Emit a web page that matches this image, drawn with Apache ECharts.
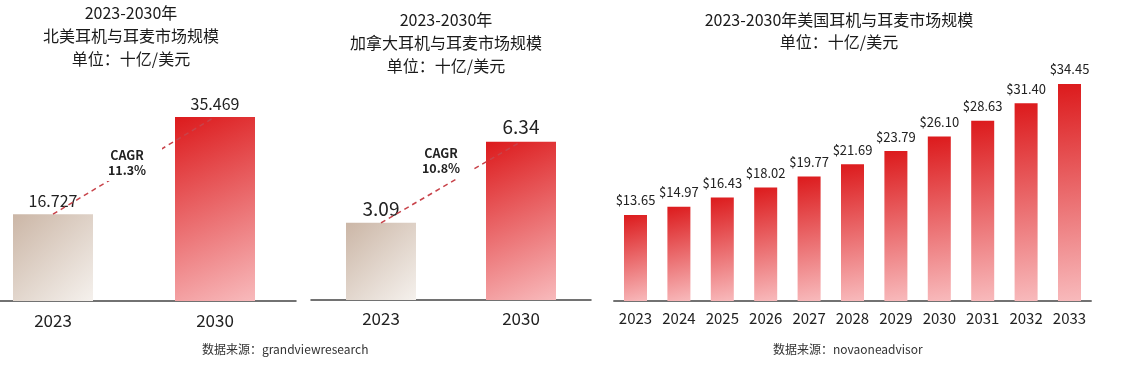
<!DOCTYPE html>
<html>
<head>
<meta charset="utf-8">
<script src="https://cdn.jsdelivr.net/npm/echarts@6/dist/echarts.min.js"></script>
<style>
html,body{margin:0;padding:0;background:#fff;}
#c{width:1143px;height:367px;}
</style>
</head>
<body>
<div id="c"></div>
<script>
// ---- data ----
var naTitle = '2023-2030年\n北美耳机与耳麦市场规模\n单位：十亿/美元';
var naCats = ['2023', '2030'];
var naValues = [16.727, 35.469];
var naCagr = 'CAGR\n11.3%';

var caTitle = '2023-2030年\n加拿大耳机与耳麦市场规模\n单位：十亿/美元';
var caCats = ['2023', '2030'];
var caValues = [3.09, 6.34];
var caCagr = 'CAGR\n10.8%';

var usTitle = '2023-2030年美国耳机与耳麦市场规模\n单位：十亿/美元';
var usCats = ['2023','2024','2025','2026','2027','2028','2029','2030','2031','2032','2033'];
var usValues = [13.65, 14.97, 16.43, 18.02, 19.77, 21.69, 23.79, 26.10, 28.63, 31.40, 34.45];

var naSource = '数据来源：grandviewresearch';
var usSource = '数据来源：novaoneadvisor';

// ---- styles ----
var FONT = '"Noto Sans CJK SC", "Noto Sans", sans-serif';
function grad(c1, c2) {
  return new echarts.graphic.LinearGradient(0, 0, 1, 1, [
    {offset: 0, color: c1}, {offset: 1, color: c2}
  ]);
}
var RED = function(){ return grad('#dc1a1c', '#f8babc'); };
var TAN = function(){ return grad('#cbb6a6', '#f5f1ed'); };

function twoBarData(vals) {
  return vals.map(function (v, i) {
    return {value: v, itemStyle: {color: i === 0 ? TAN() : RED()}};
  });
}

var axisLine = {show: true, lineStyle: {color: '#444', width: 1.5}};

var chart = echarts.init(document.getElementById('c'), null, {renderer: 'canvas'});
chart.setOption({
  animation: false,
  textStyle: {fontFamily: FONT},
  title: [
    {text: naTitle, left: 131, top: 1.5, textAlign: 'center', padding: 0,
     textStyle: {fontSize: 16, fontWeight: 'normal', color: '#1a1a1a', lineHeight: 23, fontFamily: FONT}},
    {text: caTitle, left: 446, top: 8.5, textAlign: 'center', padding: 0,
     textStyle: {fontSize: 16, fontWeight: 'normal', color: '#1a1a1a', lineHeight: 23, fontFamily: FONT}},
    {text: usTitle, left: 839, top: 9, textAlign: 'center', padding: 0,
     textStyle: {fontSize: 16, fontWeight: 'normal', color: '#1a1a1a', lineHeight: 22, fontFamily: FONT}}
  ],
  grid: [
    {left: -28, right: 847, top: 93.4, bottom: 66, outerBoundsMode: 'none', containLabel: false},
    {left: 311, right: 552, top: 100.2, bottom: 67, outerBoundsMode: 'none', containLabel: false},
    {left: 613.8, right: 51.8, top: 49, bottom: 66, outerBoundsMode: 'none', containLabel: false}
  ],
  xAxis: [
    {type: 'category', gridIndex: 0, data: naCats, axisLine: axisLine, axisTick: {show: false},
     axisLabel: {fontSize: 17, color: '#222', margin: 11, fontFamily: FONT}},
    {type: 'category', gridIndex: 1, data: caCats, axisLine: axisLine, axisTick: {show: false},
     axisLabel: {fontSize: 17, color: '#222', margin: 10, fontFamily: FONT}},
    {type: 'category', gridIndex: 2, data: usCats, axisLine: axisLine, axisTick: {show: false},
     axisLabel: {fontSize: 15, color: '#222', margin: 10, fontFamily: FONT}}
  ],
  yAxis: [
    {type: 'value', gridIndex: 0, min: 0, max: 40, show: false},
    {type: 'value', gridIndex: 1, min: 0, max: 8, show: false},
    {type: 'value', gridIndex: 2, min: 0, max: 40, show: false}
  ],
  series: [
    {type: 'bar', xAxisIndex: 0, yAxisIndex: 0, barWidth: 80, data: twoBarData(naValues),
     label: {show: true, position: 'top', distance: 5, fontSize: 16, color: '#222', fontFamily: FONT,
       formatter: function (p) { return p.value.toFixed(3); }}},
    {type: 'line', xAxisIndex: 0, yAxisIndex: 0, data: naValues, symbol: 'none', z: 3,
     lineStyle: {color: '#c8434a', width: 1.5, type: [5, 4]}},
    {type: 'bar', xAxisIndex: 1, yAxisIndex: 1, barWidth: 70, data: twoBarData(caValues),
     label: {show: true, position: 'top', distance: 5, fontSize: 19, color: '#222', fontFamily: FONT,
       formatter: function (p) { return p.value.toFixed(2); }}},
    {type: 'line', xAxisIndex: 1, yAxisIndex: 1, data: caValues, symbol: 'none', z: 3,
     lineStyle: {color: '#c8434a', width: 1.5, type: [5, 4]}},
    {type: 'bar', xAxisIndex: 2, yAxisIndex: 2, barWidth: 23,
     data: usValues.map(function (v) { return {value: v, itemStyle: {color: RED()}}; }),
     label: {show: true, position: 'top', distance: 8, fontSize: 13, color: '#222', fontFamily: FONT,
       formatter: function (p) { return '$' + p.value.toFixed(2); }}}
  ],
  graphic: [
    {type: 'text', left: 107, top: 146, z: 100,
     style: {text: naCagr, font: 'bold 12.5px ' + FONT, fill: '#222', textAlign: 'center',
       lineHeight: 15, backgroundColor: '#fff', padding: [2, 17, 3, 2], width: 36}},
    {type: 'text', left: 421, top: 144, z: 100,
     style: {text: caCagr, font: 'bold 12.5px ' + FONT, fill: '#222', textAlign: 'center',
       lineHeight: 15, backgroundColor: '#fff', padding: [2, 14, 3, 2], width: 36}},
    {type: 'text', left: 202, top: 343, z: 100,
     style: {text: naSource, font: '12px ' + FONT, fill: '#333'}},
    {type: 'text', left: 773, top: 343, z: 100,
     style: {text: usSource, font: '12px ' + FONT, fill: '#333'}}
  ]
});
</script>
</body>
</html>
